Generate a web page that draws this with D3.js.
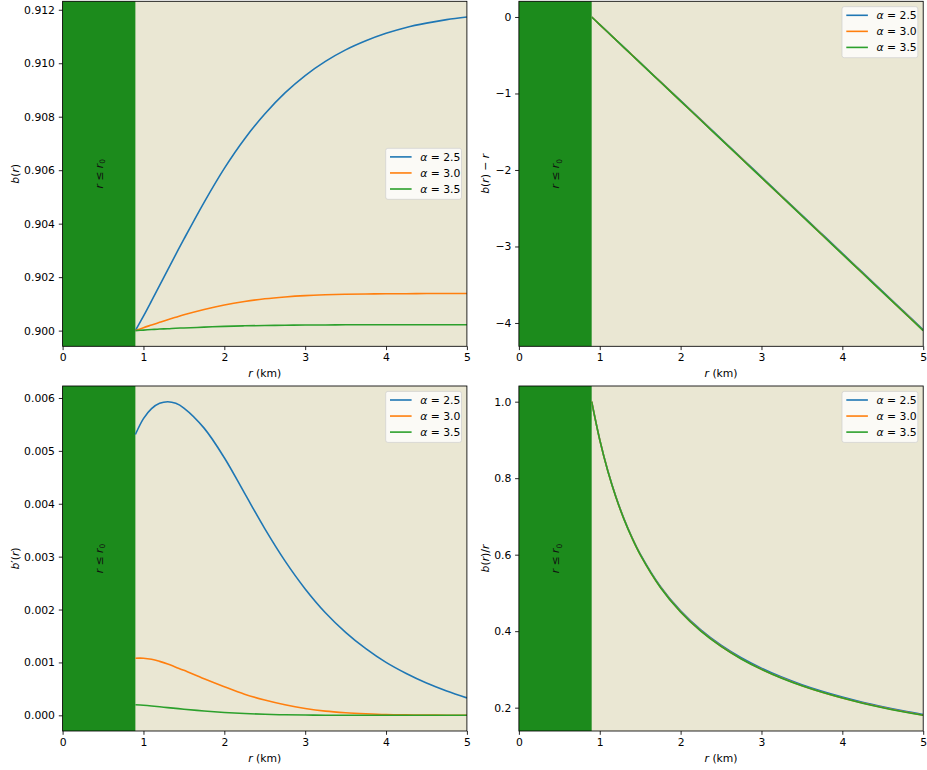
<!DOCTYPE html>
<html>
<head>
<meta charset="utf-8">
<script src="https://cdn.jsdelivr.net/npm/d3@7"></script>
<style>
  body { margin: 0; background: #fff; }
  svg { display: block; }
  text { font-family: "DejaVu Sans", sans-serif; }
</style>
</head>
<body>
<svg id="fig" width="927" height="770"></svg>
<script>
// Radial sample points (km), starting at the throat r0
const rGrid = [0.9, 1.0, 1.1, 1.2, 1.3, 1.4, 1.5, 1.75, 2.0, 2.25, 2.5, 2.75, 3.0, 3.25, 3.5, 3.75, 4.0, 4.25, 4.5, 4.75, 5.0];
const r0 = 0.9;
const alphaLabels = ["2.5", "3.0", "3.5"];
const seriesColors = ["#1f77b4", "#ff7f0e", "#2ca02c"];
const xTicks = [0, 1, 2, 3, 4, 5];

// shape function b(r)
const bA25 = [0.90000, 0.90054, 0.90111, 0.90169, 0.90227, 0.90285, 0.90342, 0.90480, 0.90607, 0.90717, 0.90810, 0.90889, 0.90954, 0.91007, 0.91050, 0.91084, 0.91112, 0.91134, 0.91150, 0.91163, 0.91173];
const bA30 = [0.90000, 0.90011, 0.90021, 0.90031, 0.90041, 0.90050, 0.90059, 0.90079, 0.90096, 0.90109, 0.90119, 0.90126, 0.90131, 0.90134, 0.90136, 0.90137, 0.90138, 0.90138, 0.90139, 0.90139, 0.90139];
const bA35 = [0.90000, 0.90002, 0.90004, 0.90006, 0.90007, 0.90009, 0.90010, 0.90013, 0.90016, 0.90018, 0.90019, 0.90020, 0.90021, 0.90021, 0.90022, 0.90022, 0.90022, 0.90022, 0.90022, 0.90022, 0.90022];

// b(r) - r
const bMinusRA25 = [0, -0.0995, -0.1989, -0.2983, -0.3977, -0.4972, -0.5966, -0.8452, -1.0939, -1.3428, -1.5919, -1.8411, -2.0905, -2.3399, -2.5895, -2.8392, -3.0889, -3.3387, -3.5885, -3.8384, -4.0883];
const bMinusRA30 = [0, -0.0999, -0.1998, -0.2997, -0.3996, -0.4995, -0.5994, -0.8492, -1.0990, -1.3489, -1.5988, -1.8487, -2.0987, -2.3487, -2.5986, -2.8486, -3.0986, -3.3486, -3.5986, -3.8486, -4.0986];
const bMinusRA35 = [0, -0.1000, -0.2000, -0.2999, -0.3999, -0.4999, -0.5999, -0.8499, -1.0998, -1.3498, -1.5998, -1.8498, -2.0998, -2.3498, -2.5998, -2.8498, -3.0998, -3.3498, -3.5998, -3.8498, -4.0998];

// derivative b'(r)
const bPrimeA25 = [0.00531, 0.00561, 0.00580, 0.00590, 0.00593, 0.00590, 0.00581, 0.00543, 0.00487, 0.00420, 0.00353, 0.00292, 0.00239, 0.00194, 0.00157, 0.00126, 0.00100, 0.00079, 0.00061, 0.00046, 0.00033];
const bPrimeA30 = [0.00108, 0.00108, 0.00106, 0.00102, 0.00097, 0.00091, 0.00085, 0.00069, 0.00054, 0.00040, 0.00029, 0.00020, 0.00013, 0.00008, 0.00005, 0.00003, 0.000015, 0.000008, 0.000004, 0.000002, 0.000001];
const bPrimeA35 = [0.00020, 0.00019, 0.000177, 0.000162, 0.000146, 0.000131, 0.000116, 0.000082, 0.000054, 0.000033, 0.000019, 0.000010, 0.000005, 0.000002, 0.000001, 0, 0, 0, 0, 0, 0];

// b(r)/r
const bOverRA25 = [1.0000, 0.9005, 0.8192, 0.7514, 0.6941, 0.6449, 0.6023, 0.5170, 0.4530, 0.4032, 0.3632, 0.3305, 0.3032, 0.2800, 0.2601, 0.2429, 0.2278, 0.2144, 0.2026, 0.1919, 0.1823];
const bOverRA30 = [1.0000, 0.9001, 0.8184, 0.7503, 0.6926, 0.6432, 0.6004, 0.5147, 0.4505, 0.4005, 0.3605, 0.3277, 0.3004, 0.2773, 0.2575, 0.2404, 0.2253, 0.2121, 0.2003, 0.1898, 0.1803];
const bOverRA35 = [1.0000, 0.9000, 0.8182, 0.7501, 0.6924, 0.6429, 0.6001, 0.5144, 0.4501, 0.4001, 0.3601, 0.3273, 0.3001, 0.2770, 0.2572, 0.2401, 0.2251, 0.2118, 0.2000, 0.1895, 0.1800];

const yTicksB = [0.900, 0.902, 0.904, 0.906, 0.908, 0.910, 0.912];
const yTicksBMinusR = [0, -1, -2, -3, -4];
const yTicksBPrime = [0.000, 0.001, 0.002, 0.003, 0.004, 0.005, 0.006];
const yTicksBOverR = [0.2, 0.4, 0.6, 0.8, 1.0];

const FS = 10.8;
const BG = "#eae7d3";
const SPAN = "#1c8b1c";

const panels = [
  { box: [62.6, 466.9, 1.3, 346.3], series: [bA25, bA30, bA35], ticks: yTicksB, fmt: d3.format(".3f"),
    ylabel: [["b", 1], ["(", 0], ["r", 1], [")", 0]], ylabelX: 15, legend: "center right" },
  { box: [518.9, 923.2, 1.3, 346.3], series: [bMinusRA25, bMinusRA30, bMinusRA35], ticks: yTicksBMinusR, fmt: d3.format("d"),
    ylabel: [["b", 1], ["(", 0], ["r", 1], [") \u2212 ", 0], ["r", 1]], ylabelX: 485.5, legend: "upper right" },
  { box: [62.6, 466.9, 386, 731], series: [bPrimeA25, bPrimeA30, bPrimeA35], ticks: yTicksBPrime, fmt: d3.format(".3f"),
    ylabel: [["b", 1], ["\u2032(", 0], ["r", 1], [")", 0]], ylabelX: 15, legend: "upper right" },
  { box: [518.9, 923.2, 386, 731], series: [bOverRA25, bOverRA30, bOverRA35], ticks: yTicksBOverR, fmt: d3.format(".1f"),
    ylabel: [["b", 1], ["(", 0], ["r", 1], [")/", 0], ["r", 1]], ylabelX: 485.5, legend: "upper right" }
];

const svg = d3.select("#fig");
svg.append("rect").attr("width", 927).attr("height", 770).attr("fill", "#fff");

function addParts(textSel, parts) {
  parts.forEach(([s, it]) => {
    textSel.append("tspan").attr("font-style", it ? "italic" : "normal").text(s);
  });
}

panels.forEach((p, idx) => {
  const [x0, x1, y0, y1] = p.box;
  const g = svg.append("g");
  const x = d3.scaleLinear().domain([0, 5]).range([x0, x1]);
  const all = p.series.flat();
  const lo = d3.min(all), hi = d3.max(all);
  const pad = (hi - lo) * 0.05;
  const y = d3.scaleLinear().domain([lo - pad, hi + pad]).range([y1, y0]);

  const clipId = "clip" + idx;
  g.append("clipPath").attr("id", clipId).append("rect")
    .attr("x", x0).attr("y", y0).attr("width", x1 - x0).attr("height", y1 - y0);

  // axes face
  g.append("rect").attr("x", x0).attr("y", y0).attr("width", x1 - x0).attr("height", y1 - y0).attr("fill", BG);

  // excluded region r <= r0
  g.append("rect").attr("x", x(0)).attr("y", y0).attr("width", x(r0) - x(0)).attr("height", y1 - y0).attr("fill", SPAN);
  const ann = g.append("text")
    .attr("transform", `translate(${x(r0 / 2)},${(y0 + y1) / 2}) rotate(-90)`)
    .attr("text-anchor", "middle").attr("dy", "0.35em")
    .attr("font-size", FS).attr("fill", "#111");
  ann.append("tspan").attr("font-style", "italic").text("r");
  ann.append("tspan").text(" \u2264 ");
  ann.append("tspan").attr("font-style", "italic").text("r");
  ann.append("tspan").attr("font-size", FS * 0.7).attr("dy", 2.5).text("0");

  // curves
  const line = d3.line().x(d => x(d[0])).y(d => y(d[1])).curve(d3.curveCatmullRom.alpha(0.5));
  const plot = g.append("g").attr("clip-path", `url(#${clipId})`);
  p.series.forEach((vals, i) => {
    plot.append("path").datum(d3.zip(rGrid, vals))
      .attr("d", line).attr("fill", "none")
      .attr("stroke", seriesColors[i]).attr("stroke-width", 1.6)
      .attr("stroke-linejoin", "round").attr("stroke-linecap", "butt");
  });

  // axes
  const xAxis = g.append("g").attr("transform", `translate(0,${y1})`)
    .call(d3.axisBottom(x).tickValues(xTicks).tickFormat(d3.format("d")).tickSize(3.8).tickPadding(3.6));
  const yAxis = g.append("g").attr("transform", `translate(${x0},0)`)
    .call(d3.axisLeft(y).tickValues(p.ticks).tickFormat(p.fmt).tickSize(3.8).tickPadding(3.8));
  [xAxis, yAxis].forEach(a => {
    a.select(".domain").remove();
    a.selectAll(".tick line").attr("stroke", "#000").attr("stroke-width", 0.85);
    a.selectAll(".tick text").attr("font-size", FS).attr("fill", "#000").attr("font-family", "DejaVu Sans");
  });

  // spines
  g.append("rect").attr("x", x0).attr("y", y0).attr("width", x1 - x0).attr("height", y1 - y0)
    .attr("fill", "none").attr("stroke", "#000").attr("stroke-width", 0.85);

  // axis labels
  const xl = g.append("text").attr("x", (x0 + x1) / 2).attr("y", y1 + 27).attr("dy", "0.35em")
    .attr("text-anchor", "middle").attr("font-size", FS).attr("fill", "#000");
  addParts(xl, [["r", 1], [" (km)", 0]]);
  const yl = g.append("text")
    .attr("transform", `translate(${p.ylabelX},${(y0 + y1) / 2}) rotate(-90)`)
    .attr("text-anchor", "middle").attr("dy", "0.35em").attr("font-size", FS).attr("fill", "#000");
  addParts(yl, p.ylabel);

  // legend
  const lw = 75.8, lh = 51;
  const lx = x1 - 5.4 - lw;
  const ly = p.legend === "center right" ? (y0 + y1) / 2 - lh / 2 : y0 + 5.4;
  const lg = g.append("g").attr("transform", `translate(${lx},${ly})`);
  lg.append("rect").attr("x", 0).attr("y", 0).attr("width", lw).attr("height", lh).attr("rx", 2.2)
    .attr("fill", "#fff").attr("fill-opacity", 0.8)
    .attr("stroke", "#cccccc").attr("stroke-opacity", 0.8).attr("stroke-width", 0.85);
  alphaLabels.forEach((lab, i) => {
    const cy = 8.6 + i * 16.05;
    lg.append("line").attr("x1", 4.3).attr("x2", 25.9).attr("y1", cy).attr("y2", cy)
      .attr("stroke", seriesColors[i]).attr("stroke-width", 1.6);
    const t = lg.append("text").attr("x", 34.5).attr("y", cy).attr("dy", "0.35em")
      .attr("font-size", FS).attr("fill", "#000");
    t.append("tspan").attr("font-style", "italic").text("\u03b1");
    t.append("tspan").text(" = " + lab);
  });
});
</script>
</body>
</html>
